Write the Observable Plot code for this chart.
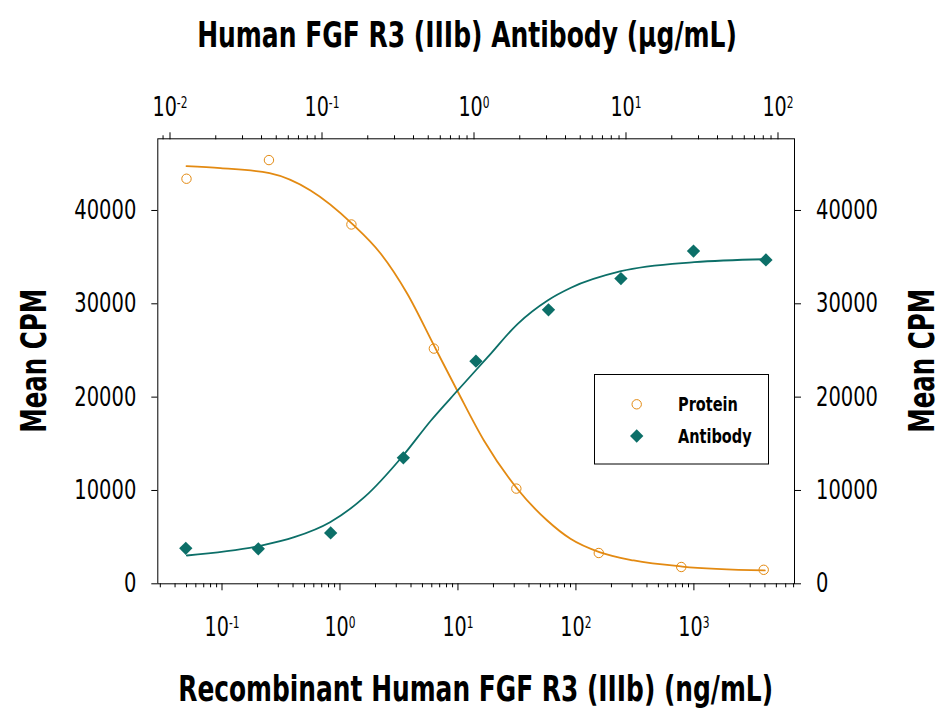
<!DOCTYPE html>
<html>
<head>
<meta charset="utf-8">
<script src="https://cdn.jsdelivr.net/npm/d3@7"></script>
<script src="https://cdn.jsdelivr.net/npm/@observablehq/plot@0.6"></script>
<style>
  html, body { margin: 0; padding: 0; background: #fff; }
  #chart svg { display: block; }
</style>
</head>
<body>
<div id="chart"></div>
<script>
// ---------- data ----------
const seriesNames = ["Protein", "Antibody"];

// Protein: Recombinant Human FGF R3 (IIIb), ng/mL (bottom axis)
const proteinConc = [0.05, 0.25, 1.25, 6.25, 31.25, 156.25, 781.25, 3906.25];
const proteinCPM  = [43400, 45400, 38500, 25200, 10200, 3300, 1800, 1500];

// Antibody: Human FGF R3 (IIIb) Antibody, µg/mL (top axis)
const antibodyConc = [0.0127, 0.0381, 0.114, 0.343, 1.03, 3.09, 9.26, 27.8, 83.3];
const antibodyCPM  = [3800, 3750, 5450, 13500, 23850, 29350, 32700, 35650, 34700];

// Fitted curves
const proteinFitConc = [0.05, 0.0971, 0.253, 0.563, 1.27, 2.21, 3.71, 6.37, 9.85, 16.6, 31.8, 57.1, 89.9, 158, 309, 796, 3990];
const proteinFitCPM  = [44750, 44530, 43990, 42140, 38570, 35390, 31100, 25350, 20710, 15350, 10180, 6780, 4820, 3390, 2500, 1850, 1430];

const antibodyFitConc = [0.0129, 0.0380, 0.0657, 0.113, 0.190, 0.342, 0.521, 0.780, 1.23, 1.94, 3.05, 4.34, 9.26, 28.1, 83.3];
const antibodyFitCPM  = [3030, 4030, 4990, 6600, 9280, 13750, 17500, 20710, 24280, 27860, 30360, 31720, 33490, 34460, 34780];

// axes
const bottomDomain = [0.02856, 7124];   // ng/mL
const topDomain    = [0.008312, 128.4]; // µg/mL
const yDomain      = [0, 47680];
const bottomTicks  = [0.1, 1, 10, 100, 1000];
const topTicks     = [0.01, 0.1, 1, 10, 100];
const yTicks       = [0, 10000, 20000, 30000, 40000];

const topTitle    = "Human FGF R3 (IIIb) Antibody (\u03BCg/mL)";
const bottomTitle = "Recombinant Human FGF R3 (IIIb) (ng/mL)";
const yTitle      = "Mean CPM";

const orange = "#E38A12";
const teal   = "#0C6F68";
const FONT = "'DejaVu Sans Condensed', 'DejaVu Sans', sans-serif";

// ---------- helpers ----------
// map a top-axis (µg/mL) value to the equivalent position on the bottom (ng/mL) log scale
const lb0 = Math.log10(bottomDomain[0]), lb1 = Math.log10(bottomDomain[1]);
const lt0 = Math.log10(topDomain[0]),    lt1 = Math.log10(topDomain[1]);
const toBottom = t => Math.pow(10, lb0 + (Math.log10(t) - lt0) * (lb1 - lb0) / (lt1 - lt0));

function minorTicks(domain) {
  const out = [];
  for (let e = Math.floor(Math.log10(domain[0])); e <= Math.ceil(Math.log10(domain[1])); e++) {
    for (let m = 2; m <= 9; m++) {
      const v = m * Math.pow(10, e);
      if (v >= domain[0] && v <= domain[1]) out.push(v);
    }
  }
  return out;
}
const pow10Label = d => "10^" + Math.round(Math.log10(d));

const proteinPts  = proteinConc.map((c, i) => ({c, v: proteinCPM[i]}));
const antibodyPts = antibodyConc.map((c, i) => ({c, v: antibodyCPM[i]}));
const proteinFit  = proteinFitConc.map((c, i) => ({c, v: proteinFitCPM[i]}));
const antibodyFit = antibodyFitConc.map((c, i) => ({c, v: antibodyFitCPM[i]}));

const W = 951, H = 717;
const mT = 138.3, mB = H - 583.3, mL = 157.3, mR = W - 794;

const chart = Plot.plot({
  width: W, height: H,
  marginTop: mT, marginBottom: mB, marginLeft: mL, marginRight: mR,
  x: {type: "log", domain: bottomDomain, label: null},
  y: {domain: yDomain, label: null},
  style: {fontFamily: FONT, fontSize: "27px", color: "#000", background: "#fff", overflow: "visible"},
  marks: [
    // bottom axis (ng/mL)
    Plot.axisX(minorTicks(bottomDomain), {anchor: "bottom", tickSize: 4, tickFormat: () => "", label: null}),
    Plot.axisX(bottomTicks, {anchor: "bottom", tickSize: 7, tickPadding: 26.5, tickFormat: pow10Label, label: null}),
    // top axis (µg/mL): ticks, then labels as a text mark
    Plot.axisX(minorTicks(topDomain).map(toBottom), {anchor: "top", tickSize: 4, tickFormat: () => "", label: null}),
    Plot.axisX(topTicks.map(toBottom), {anchor: "top", tickSize: 7, tickFormat: () => "", label: null}),
    Plot.text(topTicks, {x: d => toBottom(d), text: pow10Label, frameAnchor: "top", lineAnchor: "bottom",
      dy: -23.3, fontSize: 27}),
    // y axes
    Plot.axisY(yTicks, {anchor: "left", tickSize: 6, tickPadding: 15.5, tickFormat: d => String(d), label: null}),
    Plot.axisY(yTicks, {anchor: "right", tickSize: 6, tickPadding: 15.5, tickFormat: d => String(d), label: null}),
    Plot.frame({stroke: "#000", strokeWidth: 1}),
    // fitted curves
    Plot.line(proteinFit, {x: "c", y: "v", stroke: orange, strokeWidth: 1.8, curve: "monotone-x"}),
    Plot.line(antibodyFit, {x: d => toBottom(d.c), y: "v", stroke: teal, strokeWidth: 1.8, curve: "monotone-x"}),
    // points
    Plot.dot(proteinPts, {x: "c", y: "v", r: 4.7, stroke: orange, strokeWidth: 1, fill: "none"}),
    Plot.dot(antibodyPts, {x: d => toBottom(d.c), y: "v", r: 6, symbol: "diamond2", fill: teal, stroke: "none"})
  ]
});

document.getElementById("chart").appendChild(chart);
const svg = d3.select(chart);

// horizontally condense a text element about its anchor point
function squeeze(el, sx) {
  const tr = el.getAttribute("transform") || "";
  el.setAttribute("transform", (tr + ` scale(${sx},1)`).trim());
}
function squeezeTo(el, target) {
  const w = el.getBBox().width;
  if (w > 0) squeeze(el, target / w);
}

// superscript exponents on the log tick labels
const powLabels = [];
svg.selectAll("text").each(function () {
  const m = /^10\^(-?\d+)$/.exec(this.textContent);
  if (!m) return;
  const sel = d3.select(this);
  sel.text("10");
  sel.append("tspan").attr("dy", "-8").attr("font-size", "15px").text(m[1]);
  powLabels.push(this);
});

// condense tick labels to the narrow face of the reference
if (powLabels.length) {
  const sx = 35 / powLabels[0].getBBox().width;
  powLabels.forEach(el => squeeze(el, sx));
}
const ylabs = svg.selectAll('g[aria-label="y-axis tick label"] text').nodes();
const ref = ylabs.find(el => el.textContent === "40000");
if (ref) {
  const sx = 62 / ref.getBBox().width;
  ylabs.forEach(el => squeeze(el, sx));
}

// titles
const titleStyle = s => s.attr("font-family", FONT).attr("font-weight", "bold").attr("font-size", 36)
  .attr("fill", "#000").attr("text-anchor", "middle");
const t1 = svg.append("text").call(titleStyle).attr("transform", "translate(467,47)").text(topTitle);
squeezeTo(t1.node(), 540);
const t2 = svg.append("text").call(titleStyle).attr("transform", `translate(${(mL + W - mR) / 2},701)`).text(bottomTitle);
squeezeTo(t2.node(), 595);
const t3 = svg.append("text").call(titleStyle)
  .attr("transform", `translate(46,${(mT + H - mB) / 2}) rotate(-90)`).text(yTitle);
squeezeTo(t3.node(), 144);
const t4 = svg.append("text").call(titleStyle)
  .attr("transform", `translate(934,${(mT + H - mB) / 2}) rotate(-90)`).text(yTitle);
squeezeTo(t4.node(), 144);

// legend
const lg = svg.append("g").attr("font-family", FONT).attr("font-size", 20).attr("font-weight", "bold")
  .attr("text-anchor", "start");
lg.append("rect").attr("x", 594.5).attr("y", 374.5).attr("width", 174).attr("height", 89.5)
  .attr("fill", "#fff").attr("stroke", "#000").attr("stroke-width", 1);
lg.append("circle").attr("cx", 636.7).attr("cy", 404.3).attr("r", 4.7)
  .attr("fill", "none").attr("stroke", orange).attr("stroke-width", 1);
lg.append("path").attr("d", d3.symbol(d3.symbolDiamond2, 6 * 6 * Math.PI)()).attr("transform", "translate(636.7,436)")
  .attr("fill", teal);
const l1 = lg.append("text").attr("transform", "translate(678,411)").text(seriesNames[0]);
squeezeTo(l1.node(), 60);
const l2 = lg.append("text").attr("transform", "translate(678,443)").text(seriesNames[1]);
squeezeTo(l2.node(), 74);
</script>
</body>
</html>
